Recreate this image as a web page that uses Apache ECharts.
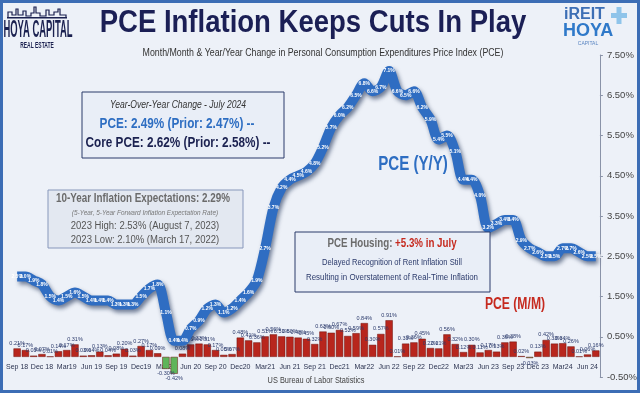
<!DOCTYPE html>
<html>
<head>
<meta charset="utf-8">
<script src="https://cdn.jsdelivr.net/npm/echarts@6/dist/echarts.min.js"></script>
<style>
html,body{margin:0;padding:0;background:#edf1f8;}
#c{width:640px;height:393px;}
</style>
</head>
<body>
<div id="c"></div>
<script>
var months = ["Sep 18","Oct 18","Nov 18","Dec 18","Jan 19","Feb 19","Mar19","Apr 19","May 19","Jun 19","Jul 19","Aug 19",
"Sep 19","Oct 19","Nov 19","Dec19","Jan 20","Feb 20","Mar20","Apr 20","May 20","Jun 20","Jul 20","Aug 20",
"Sep 20","Oct 20","Nov 20","Dec20","Jan 21","Feb 21","Mar21","Apr 21","May 21","Jun 21","Jul 21","Aug 21",
"Sep 21","Oct 21","Nov 21","Dec21","Jan 22","Feb 22","Mar22","Apr 22","May 22","Jun 22","Jul 22","Aug 22",
"Sep 22","Oct 22","Nov 22","Dec22","Jan 23","Feb 23","Mar23","Apr 23","May 23","Jun 23","Jul 23","Aug 23",
"Sep 23","Oct 23","Nov 23","Dec 23","Jan 24","Feb 24","Mar24","Apr 24","May 24","Jun 24","Jul 24"];

var pceYoY = [2.0,2.0,1.9,1.8,
1.5,1.4,1.5,1.6,1.5,1.4,1.4,1.4,1.3,1.3,1.3,1.5,
1.7,1.8,1.1,0.4,0.4,0.7,0.9,1.2,1.3,1.1,1.2,1.4,
1.6,1.9,2.7,3.7,4.2,4.4,4.5,4.6,4.8,5.2,5.7,6.0,
6.2,6.5,6.8,6.6,6.7,7.1,6.6,6.5,6.6,6.2,5.9,5.4,
5.5,5.1,4.4,4.4,4.0,3.2,3.3,3.4,3.4,2.9,2.7,2.6,
2.5,2.5,2.7,2.7,2.6,2.5,2.5];

var pceMoM = [0.21,0.17,0.03,0.07,
0.01,0.14,0.17,0.31,0.03,0.04,0.13,0.04,0.08,0.20,0.03,0.27,
0.17,0.09,-0.30,-0.42,0.08,0.31,0.33,0.31,0.17,0.05,0.07,0.48,
0.41,0.36,0.51,0.56,0.51,0.50,0.48,0.45,0.32,0.63,0.60,0.67,
0.52,0.59,0.84,0.30,0.57,0.91,0.01,0.33,0.36,0.45,0.22,0.21,
0.56,0.32,0.12,0.30,0.11,0.17,0.13,0.36,0.38,0.02,-0.03,0.13,
0.42,0.33,0.34,0.26,0.01,0.06,0.16];

var yTicks = [-0.5,0.5,1.5,2.5,3.5,4.5,5.5,6.5,7.5];

var FONT = "'Liberation Sans',Arial,sans-serif";

var chart = echarts.init(document.getElementById('c'), null, {renderer:'canvas'});

function txt(text, x, y, size, color, opts){
  opts = opts || {};
  return {
    type:'text', z:200, x:x, y:y, scaleX: opts.scaleX || 1, scaleY: opts.scaleY || 1,
    style:{
      text:text, fill:color, fontSize:size, fontFamily: opts.family || FONT,
      fontWeight: opts.weight || 'normal', fontStyle: opts.style || 'normal',
      align: opts.align || 'center', verticalAlign:'middle',
      textAlign: opts.align || 'center', textVerticalAlign:'middle'
    }
  };
}

var graphics = [
  {type:'rect', z:1, shape:{x:1.5,y:1.5,width:637,height:390}, style:{fill:'none', stroke:'#3c6db5', lineWidth:3}},
  // title
  txt('PCE Inflation Keeps Cuts In Play', 313, 23, 32, '#1b1f55', {weight:'bold', scaleX:0.86}),
  txt('Month/Month & Year/Year Change in Personal Consumption Expenditures Price Index (PCE)', 323, 53, 10, '#333333', {scaleX:0.88}),
  // left logo
  {type:'polyline', z:200, shape:{points:[[8,18],[8,12],[12,12],[12,15],[16,15],[16,9],[18,9],[18,15],[23,15],[23,11],[26,11],[26,16],[31,16],[31,13],[34,13],[34,7],[36,7],[36,13],[40,13],[40,16],[46,16],[46,10],[49,10],[49,15],[54,15],[54,12],[58,12],[58,9],[60,9],[60,15],[66,15],[66,18]]}, style:{fill:'none', stroke:'#1b2150', lineWidth:1.2}},
  {type:'rect', z:200, shape:{x:7,y:17,width:60,height:1.5}, style:{fill:'#1b2150'}},
  txt('HOYA CAPITAL', 38, 31, 23, '#1b2150', {weight:'bold', scaleX:0.41}),
  txt('REAL ESTATE', 37, 46, 9, '#1b2150', {weight:'bold', scaleX:0.55}),
  // right logo
  txt('iREIT', 564, 15, 16, '#3d6fb5', {weight:'bold', align:'left'}),
  txt('HOYA', 563, 31, 18, '#2f79c9', {weight:'bold', align:'left'}),
  {type:'rect', z:200, shape:{x:611,y:13,width:16,height:5}, style:{fill:'#8fc4ea'}},
  {type:'rect', z:200, shape:{x:616.5,y:7,width:5,height:17}, style:{fill:'#8fc4ea'}},
  txt('CAPITAL', 588, 44, 5, '#5b86c2'),
  // YoY box
  {type:'rect', z:150, shape:{x:82,y:92,width:202,height:66}, style:{fill:'#e9eef7', stroke:'#2b3a6b', lineWidth:1}},
  txt('Year-Over-Year Change - July 2024', 178, 105, 11, '#333333', {style:'italic', scaleX:0.78}),
  txt('PCE: 2.49% (Prior: 2.47%) --', 177, 124, 14, '#2e6ec2', {weight:'bold', scaleX:0.84}),
  txt('Core PCE: 2.62% (Prior: 2.58%) --', 178, 143, 14, '#1b2150', {weight:'bold', scaleX:0.84}),
  // Expectations box
  {type:'rect', z:150, shape:{x:48,y:190,width:195,height:58}, style:{fill:'#e3e8f1', stroke:'#8797bb', lineWidth:1}},
  txt('10-Year Inflation Expectations: 2.29%', 143, 199, 12, '#6b6b6b', {weight:'bold', scaleX:0.82}),
  txt('(5-Year, 5-Year Forward Inflation Expectation Rate)', 145, 213, 7.5, '#777777', {style:'italic', scaleX:0.86}),
  txt('2023 High: 2.53% (August 7, 2023)', 145, 226, 10, '#555555', {scaleX:0.95}),
  txt('2023 Low: 2.10% (March 17, 2022)', 145, 240, 10, '#555555', {scaleX:0.95}),
  // Housing box
  {type:'rect', z:150, shape:{x:295,y:232,width:195,height:60}, style:{fill:'#e9eef7', stroke:'#2b3a6b', lineWidth:1}},
  {type:'text', z:200, x:392, y:243, scaleX:0.75, style:{text:'{a|PCE Housing: }{b|+5.3% in July}', align:'center', verticalAlign:'middle', textAlign:'center', textVerticalAlign:'middle',
     rich:{a:{fontSize:13, fontWeight:'bold', fill:'#6b6b6b', color:'#6b6b6b', fontFamily:FONT}, b:{fontSize:13, fontWeight:'bold', fill:'#c62a1f', color:'#c62a1f', fontFamily:FONT}}}},
  txt('Delayed Recognition of Rent Inflation Still', 392, 262, 9.5, '#2b3a6b', {scaleX:0.8}),
  txt('Resulting in Overstatement of Real-Time Inflation', 392, 277, 9.5, '#2b3a6b', {scaleX:0.83}),
  // series labels
  txt('PCE (Y/Y)', 413, 164, 21, '#2e6ec2', {weight:'bold', scaleX:0.72}),
  txt('PCE (M/M)', 515, 305, 16, '#c62a1f', {weight:'bold', scaleX:0.76}),
  txt('US Bureau of Labor Statistics', 316, 381, 9, '#444444', {scaleX:0.82})
];

var barData = pceMoM.map(function(v){
  return v < 0 ? {value:v, label:{position:'bottom'}} : v;
});

chart.setOption({
  animation:false,
  backgroundColor:'#edf1f8',
  grid:{left:13, right:40, top:55, bottom:16, containLabel:false},
  xAxis:{
    type:'category', data:months, boundaryGap:true, position:'bottom', offset:-20,
    axisLine:{show:false, onZero:false}, axisTick:{show:false},
    axisLabel:{interval:2, showMinLabel:true, hideOverlap:false, fontSize:7, color:'#2b3350', margin:7, fontFamily:FONT}
  },
  yAxis:{
    type:'value', position:'right', min:yTicks[0], max:yTicks[yTicks.length-1],
    splitLine:{show:false},
    axisLine:{show:true, lineStyle:{color:'#8a93a8', width:1}},
    axisTick:{show:true, length:3, customValues:yTicks, lineStyle:{color:'#8a93a8'}},
    axisLabel:{customValues:yTicks, fontSize:9.5, color:'#444', margin:7, fontFamily:FONT,
      formatter:function(v){ return v.toFixed(2) + '%'; }}
  },
  series:[
    {
      type:'bar', data:barData, barCategoryGap:'12%', z:2,
      itemStyle:{
        color:function(p){ return p.value < 0 ? '#5fb55a' : '#b8261d'; },
        borderColor:'#6e120d', borderWidth:0.5
      },
      label:{show:true, position:'top', distance:2, fontSize:5.5, color:'#2b3a6b', fontFamily:FONT,
        formatter:function(p){ return p.value.toFixed(2) + '%'; }}
    },
    {
      type:'line', data:pceYoY, smooth:0.3, z:5,
      symbol:'circle', symbolSize:1, showSymbol:true,
      itemStyle:{color:'#2f6dc2'},
      lineStyle:{color:'#2f6dc2', width:10, shadowColor:'rgba(10,30,70,0.55)', shadowBlur:4, shadowOffsetX:2, shadowOffsetY:3},
      label:{show:true, position:'inside', fontSize:5, fontWeight:'bold', color:'#ffffff', fontFamily:FONT,
        formatter:function(p){ return p.value.toFixed(1) + '%'; }}
    }
  ],
  graphic:graphics
});
</script>
</body>
</html>
